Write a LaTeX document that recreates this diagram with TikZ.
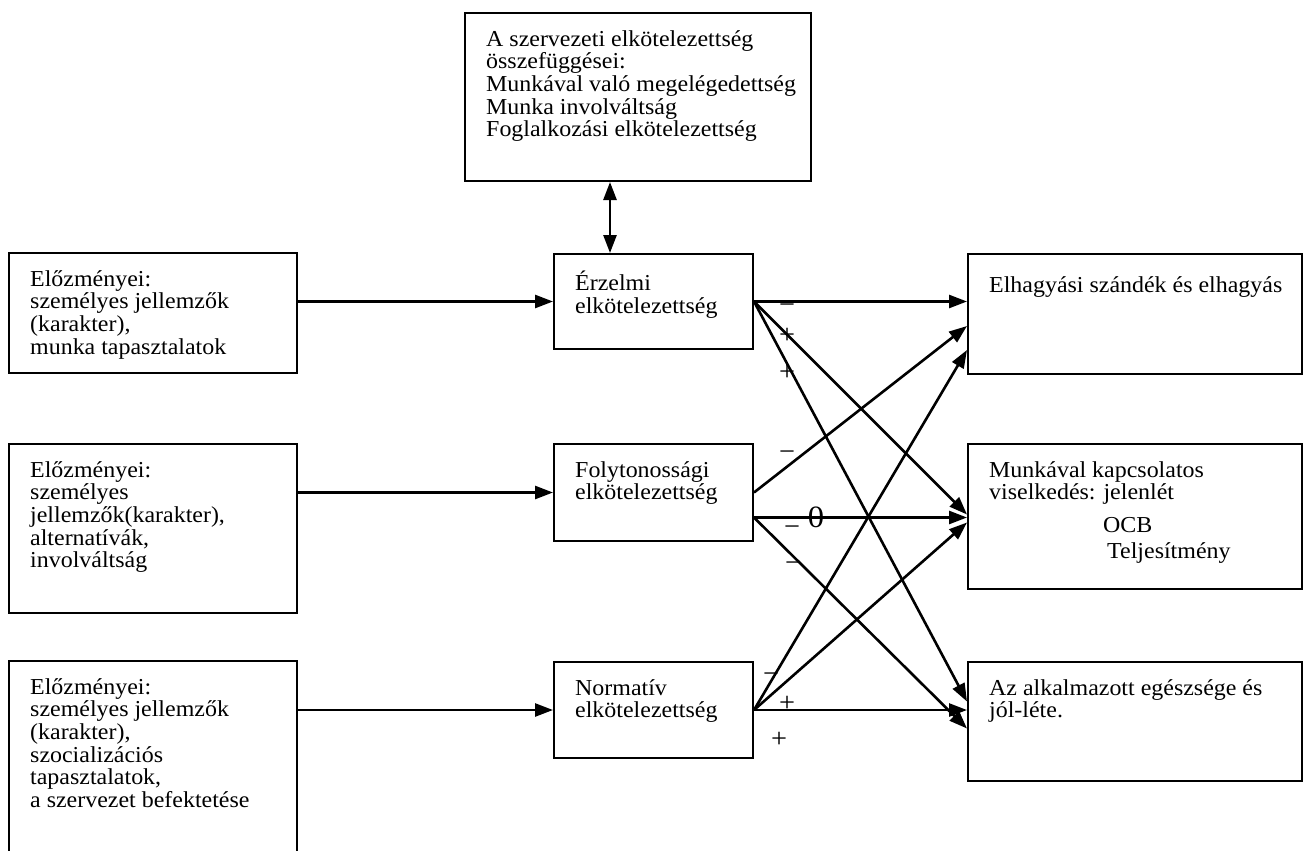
\documentclass[tikz,border=0pt]{standalone}
\usepackage{fontspec}
\setmainfont{Liberation Serif}[FakeStretch=1.05]
\usetikzlibrary{arrows.meta}

\begin{document}
\begin{tikzpicture}[x=1pt,y=-1pt,
  box/.style={draw,line width=2pt,anchor=north west,inner sep=0pt},
  txt/.style={anchor=north west,inner sep=0pt,align=left,
    font={\fontsize{22.8}{22.7}\selectfont\lineskiplimit=-50pt},
    execute at begin node={\rule{0pt}{21pt}}},
  sign/.style={inner sep=0pt,font={\fontsize{27}{27}\selectfont}},
  link/.style={line width=2.6pt,-{Triangle[length=18pt,width=13pt]}}]
  \useasboundingbox (0,0) rectangle (1304,851);
  \clip (0,0) rectangle (1304,851);
  % --- Top box ---
  \node[box,minimum width=346pt,minimum height=168pt] (top) at (464,12) {};
  \node[txt] (topt) at ([xshift=22pt,yshift=-18pt]top.north west)
    {A szervezeti elkötelezettség\\összefüggései:\\Munkával való megelégedettség\\Munka involváltság\\Foglalkozási elkötelezettség};
  % --- Left column ---
  \node[box,minimum width=288pt,minimum height=120pt] (l1) at (8,252) {};
  \node[box,minimum width=288pt,minimum height=169pt] (l2) at (8,443) {};
  \node[box,minimum width=288pt,minimum height=200pt] (l3) at (8,660) {};
  \node[txt] (l1t) at ([xshift=22pt,yshift=-18pt]l1.north west)
    {Előzményei:\\személyes jellemzők\\(karakter),\\munka tapasztalatok};
  \node[txt] (l2t) at ([xshift=22pt,yshift=-18pt]l2.north west)
    {Előzményei:\\személyes\\jellemzők(karakter),\\alternatívák,\\involváltság};
  \node[txt] (l3t) at ([xshift=22pt,yshift=-18pt]l3.north west)
    {Előzményei:\\személyes jellemzők\\(karakter),\\szocializációs\\tapasztalatok,\\a szervezet befektetése};
  % --- Middle column ---
  \node[box,minimum width=199pt,minimum height=95pt] (m1) at (553,253) {};
  \node[box,minimum width=199pt,minimum height=97pt] (m2) at (553,443) {};
  \node[box,minimum width=199pt,minimum height=96pt] (m3) at (553,661) {};
  \node[txt] (m1t) at ([xshift=22pt,yshift=-18pt]m1.north west) {Érzelmi\\elkötelezettség};
  \node[txt] (m2t) at ([xshift=22pt,yshift=-18pt]m2.north west) {Folytonossági\\elkötelezettség};
  \node[txt] (m3t) at ([xshift=22pt,yshift=-18pt]m3.north west) {Normatív\\elkötelezettség};
  % --- Right column ---
  \node[box,minimum width=334pt,minimum height=120pt] (r1) at (967,253) {};
  \node[box,minimum width=334pt,minimum height=145pt] (r2) at (967,443) {};
  \node[box,minimum width=334pt,minimum height=119pt] (r3) at (967,661) {};
  \node[txt] (r1t) at ([xshift=22pt,yshift=-18pt]r1.north west) {Elhagyási szándék és elhagyás};
  \node[txt] (r2t) at ([xshift=22pt,yshift=-18pt]r2.north west)
    {Munkával kapcsolatos\\viselkedés: jelenlét\\[10pt]\hspace*{114pt}OCB\\[3pt]\hspace*{118pt}Teljesítmény};
  \node[txt] (r3t) at ([xshift=22pt,yshift=-18pt]r3.north west) {Az alkalmazott egészsége és\\jól-léte.};
  % --- Arrows ---
  \draw[line width=2.6pt,{Triangle[length=18pt,width=13pt]}-{Triangle[length=18pt,width=13pt]}]
    ([xshift=-28pt]top.south) -- ([xshift=-28pt]top.south |- m1.north);
  \draw[link] (l1.east |- m1.west) -- (m1.west);
  \draw[link] (l2.east |- m2.west) -- (m2.west);
  \draw[link] (l3.east |- m3.west) -- (m3.west);
  \draw[link] (m1.east) -- ([yshift=12.5pt]r1.west);
  \draw[link] (m1.east) -- ([yshift=2pt]r2.west);
  \draw[link] (m1.east) -- ([yshift=20pt]r3.west);
  \draw[link] (m2.east) -- ([yshift=-12pt]r1.west);
  \draw[link] ([yshift=-25pt]m2.east) -- ([yshift=-1pt]r2.west);
  \draw[link] ([yshift=-25pt]m2.east) -- ([yshift=-7pt]r3.west);
  \draw[link] (m3.east) -- ([yshift=-36pt]r1.west);
  \draw[link] (m3.east) -- ([yshift=-6pt]r2.west);
  \draw[link] (m3.east) -- ([yshift=11.5pt]r3.west);
  % --- Signs ---
  \node[sign] (s1) at (787,309) {−};
  \node[sign] (s2) at (787,336) {+};
  \node[sign] (s3) at (787,373) {+};
  \node[sign] (s4) at (787,456) {−};
  \node[sign,font={\fontsize{31}{31}\selectfont}] (s5) at (816,517) {0};
  \node[sign] (s6) at (792,531) {−};
  \node[sign] (s7) at (793,567) {−};
  \node[sign] (s8) at (771,678) {−};
  \node[sign] (s9) at (787,704) {+};
  \node[sign] (s10) at (779,740) {+};
\end{tikzpicture}
\end{document}
